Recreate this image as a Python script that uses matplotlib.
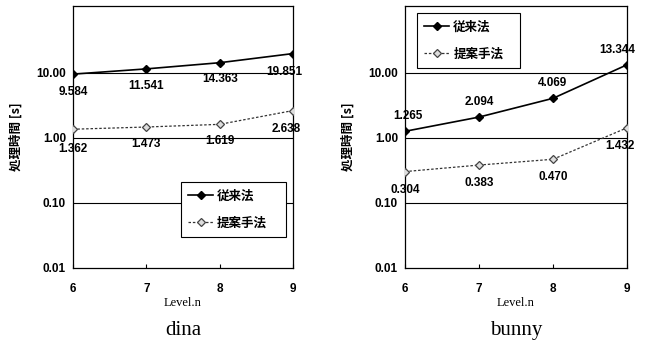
import matplotlib
matplotlib.use("Agg")
import matplotlib.pyplot as plt

plt.rcParams['font.family'] = ['Liberation Sans', 'Noto Sans CJK JP', 'DejaVu Sans']

# データ
levels = [6, 7, 8, 9]
dina_conv = [9.584, 11.541, 14.363, 19.851]
dina_prop = [1.362, 1.473, 1.619, 2.638]
bunny_conv = [1.265, 2.094, 4.069, 13.344]
bunny_prop = [0.304, 0.383, 0.470, 1.432]
ytick_vals = [0.01, 0.1, 1, 10]
ytick_labels = ["0.01", "0.10", "1.00", "10.00"]
label_conv = "従来法"
label_prop = "提案手法"
ylabel = "処理時間 [s]"
xlabel = "Level.n"

jp = ['Noto Sans CJK JP', 'DejaVu Sans']

fig = plt.figure(figsize=(6.49, 3.4), dpi=100)
ax1 = fig.add_axes([73 / 649, 72 / 340, 220 / 649, 262 / 340])
ax2 = fig.add_axes([405 / 649, 72 / 340, 222 / 649, 262 / 340])


def draw(ax, conv, prop, off_conv, off_prop, legend_kw, title):
    ax.set_yscale("log")
    ax.set_ylim(0.01, 107)
    ax.set_xlim(6, 9)
    for g in [0.1, 1, 10]:
        ax.axhline(g, color="black", lw=0.8, zorder=1)
    ax.plot(levels, conv, color="black", lw=1.2, marker="D", ms=4,
            mfc="black", mec="black", label=label_conv, zorder=3)
    ax.plot(levels, prop, color="#333333", lw=0.9, ls=(0, (2, 1.5)),
            marker="D", ms=4, mfc="#dddddd", mec="#444444", mew=0.9,
            label=label_prop, zorder=3)
    for x, v, (dx, dy) in zip(levels, conv, off_conv):
        ax.annotate(f"{v:.3f}", (x, v), xytext=(dx, dy), textcoords="offset points",
                    ha="center", va="center", fontsize=8.5, fontweight="bold", zorder=4)
    for x, v, (dx, dy) in zip(levels, prop, off_prop):
        ax.annotate(f"{v:.3f}", (x, v), xytext=(dx, dy), textcoords="offset points",
                    ha="center", va="center", fontsize=8.5, fontweight="bold", zorder=4)
    ax.set_yticks(ytick_vals)
    ax.set_yticklabels(ytick_labels, fontsize=8.5, fontweight="bold")
    ax.minorticks_off()
    ax.set_xticks(levels)
    ax.set_xticklabels([str(l) for l in levels], fontsize=8.5, fontweight="bold")
    ax.tick_params(axis="y", length=0, pad=5)
    ax.tick_params(axis="x", length=3, direction="in", pad=11)
    for s in ax.spines.values():
        s.set_linewidth(0.9)
    ax.set_ylabel(ylabel, family=jp, fontsize=9, fontweight="bold", labelpad=10)
    ax.set_xlabel(xlabel, family="Liberation Serif", fontsize=9, labelpad=1)
    leg = ax.legend(prop={'family': jp, 'size': 9, 'weight': 'bold'},
                    fancybox=False, edgecolor="black", framealpha=1,
                    handlelength=2.0, labelspacing=1.1, borderpad=0.6,
                    handletextpad=0.3, mode="expand", borderaxespad=0,
                    **legend_kw)
    leg.get_frame().set_linewidth(0.8)
    fig.text(ax.get_position().x0 + ax.get_position().width / 2, 5 / 340, title,
             ha="center", va="baseline", family="Liberation Serif", fontsize=15)


draw(ax1, dina_conv, dina_prop,
     [(0, -13), (0, -12), (0, -12), (-6, -13)],
     [(0, -14), (0, -12), (0, -12), (-5, -13)],
     dict(loc="upper left", bbox_to_anchor=(0.49, 0.328, 0.478, 0.0)),
     "dina")
draw(ax2, bunny_conv, bunny_prop,
     [(2, 11), (0, 11), (0, 11), (-7, 11)],
     [(0, -13), (0, -13), (0, -13), (-5, -13)],
     dict(loc="upper left", bbox_to_anchor=(0.054, 0.973, 0.464, 0.0)),
     "bunny")

fig.savefig("out.png", dpi=100)
